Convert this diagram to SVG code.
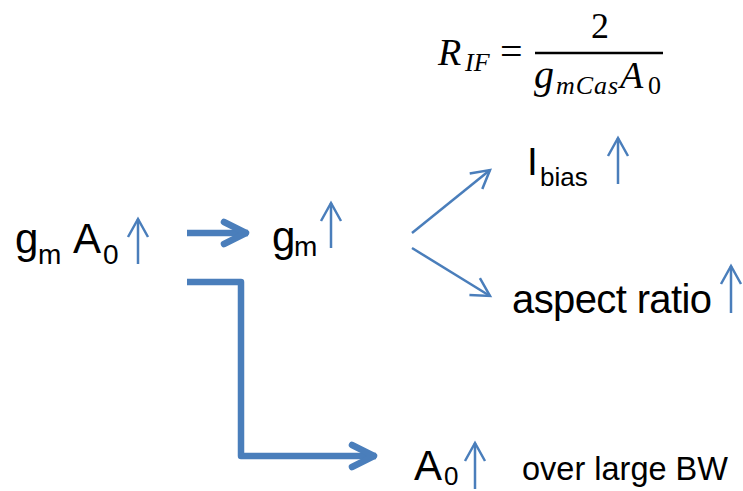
<svg xmlns="http://www.w3.org/2000/svg" width="743" height="491" viewBox="0 0 743 491">
<style>
.t{font-family:"Liberation Sans",Arial,sans-serif;fill:#000}
.m{font-family:"Liberation Serif","Times New Roman",serif;fill:#000}
.mi{font-family:"Liberation Serif","Times New Roman",serif;font-style:italic;fill:#000}
.thin{stroke:#4a7ebb;stroke-width:2.5;fill:none}
.thick{stroke:#4a7ebb;stroke-width:6.5;fill:none;stroke-linejoin:round}
</style>
<defs>
<marker id="ah" markerUnits="userSpaceOnUse" markerWidth="40" markerHeight="40" viewBox="-30 -20 40 40" refX="0" refY="0" orient="auto" overflow="visible">
<path d="M-18,-10 L0,0 L-18,10" fill="none" stroke="#4a7ebb" stroke-width="2.5" stroke-linejoin="miter"/>
</marker>
<marker id="ahT" markerUnits="userSpaceOnUse" markerWidth="60" markerHeight="60" viewBox="-40 -30 60 60" refX="0" refY="0" orient="auto" overflow="visible">
<path d="M-24,-11 L-2,0 L-24,11" fill="none" stroke="#4a7ebb" stroke-width="6.5" stroke-linecap="round" stroke-linejoin="round"/>
</marker>
</defs>

<g id="formula">
<text class="mi" x="438" y="65" font-size="38">R</text>
<text class="mi" x="465" y="71" font-size="26">IF</text>
<text class="m" x="500" y="65" font-size="40">=</text>
<line x1="535" y1="53" x2="663" y2="53" stroke="#000" stroke-width="2.5"/>
<text class="m" x="600" y="38" font-size="36" text-anchor="middle">2</text>
<text class="mi" x="534" y="88" font-size="40">g</text>
<text class="mi" x="556" y="94" font-size="26" textLength="62">mCas</text>
<text class="mi" x="620" y="88" font-size="38">A</text>
<text class="m" x="648" y="94" font-size="26">0</text>
</g>

<g id="node-gmA0">
<text class="t" x="15" y="253" font-size="42">g</text>
<text class="t" x="38" y="264" font-size="28">m</text>
<text class="t" x="73" y="253" font-size="42">A</text>
<text class="t" x="103" y="264" font-size="28">0</text>
<line class="thin" x1="138" y1="264" x2="138" y2="219" marker-end="url(#ah)"/>
</g>

<g id="node-gm">
<text class="t" x="272" y="251" font-size="42">g</text>
<text class="t" x="294" y="256" font-size="28">m</text>
<line class="thin" x1="331" y1="248" x2="331" y2="203" marker-end="url(#ah)"/>
</g>

<g id="node-ibias">
<text class="t" x="527" y="175" font-size="39">I</text>
<text class="t" x="540" y="186" font-size="26">bias</text>
<line class="thin" x1="618" y1="184" x2="618" y2="138" marker-end="url(#ah)"/>
</g>

<g id="node-aspect">
<text class="t" x="512" y="313" font-size="40" textLength="200">aspect ratio</text>
<line class="thin" x1="731" y1="313" x2="731" y2="266" marker-end="url(#ah)"/>
</g>

<g id="node-A0">
<text class="t" x="414" y="480" font-size="42">A</text>
<text class="t" x="444" y="485" font-size="26">0</text>
<line class="thin" x1="475" y1="489" x2="475" y2="443" marker-end="url(#ah)"/>
<text class="t" x="522" y="480" font-size="32.5" textLength="206">over large BW</text>
</g>

<g id="connectors">
<line class="thick" x1="187" y1="233" x2="248" y2="233" marker-end="url(#ahT)"/>
<polyline class="thick" points="187,282 241,282 241,456 376,456" marker-end="url(#ahT)"/>
<line class="thin" x1="412" y1="233" x2="490" y2="170" marker-end="url(#ah)"/>
<line class="thin" x1="412" y1="248" x2="490" y2="296" marker-end="url(#ah)"/>
</g>
</svg>
